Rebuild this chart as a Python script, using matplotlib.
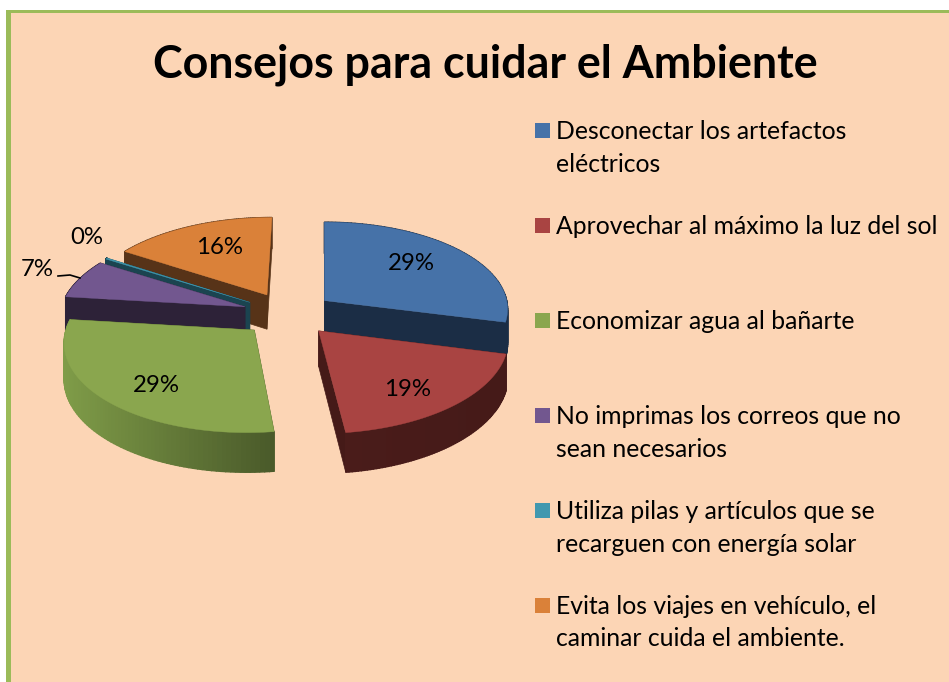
import matplotlib
matplotlib.use('Agg')
import matplotlib.pyplot as plt
import numpy as np
from matplotlib.patches import Rectangle, Polygon
from matplotlib.colors import to_rgb

# Data
title = 'Consejos para cuidar el Ambiente'
categories = ['Desconectar los artefactos\neléctricos',
              'Aprovechar al máximo la luz del sol',
              'Economizar agua al bañarte',
              'No imprimas los correos que no\nsean necesarios',
              'Utiliza pilas y artículos que se\nrecarguen con energía solar',
              'Evita los viajes en vehículo, el\ncaminar cuida el ambiente.']
values = [29, 19, 29, 7, 0.2, 16]

top_colors = ['#4672A8', '#A94442', '#8AA64E', '#72578F', '#4198AF', '#DA8139']
side_colors = ['#1B2D45', '#451A18', '#4A5A2A', '#2D2238', '#1B4450', '#573318']
arc_colors = ['#1B2D45', '#4A1C1A', '#7F9C48', '#2D2238', '#1B4450', '#573318']

# pie geometry, in pixels
cx, cy = 288, 314
R = 185
squash = 0.48
persp = 0.10
view_shift = -35
explode = 0.25
depth = 35

# where the data labels sit
label_pos = [(411, 263), (408, 389), (156, 385), (37, 269), (87, 238), (220, 247)]

fig = plt.figure(figsize=(9.49, 6.82), dpi=100)
ax = fig.add_axes([0, 0, 1, 1])
ax.set_xlim(0, 949)
ax.set_ylim(682, 0)
ax.axis('off')
fig.patch.set_facecolor('white')

# Background and green frame
ax.add_patch(Rectangle((6, 10), 943, 672, fc='#9BBB59', ec='none', zorder=0))
ax.add_patch(Rectangle((11, 13), 938, 669, fc='#FCD5B5', ec='none', zorder=0))


def project(u, v):
    f = 1 / (1 + persp * v)
    return cx + R * u * f + view_shift * (f - 1), cy - R * squash * v * f, f


def drop(u, v):
    x, y, f = project(u, v)
    return x, y + depth * f


fracs = np.array(values) / sum(values)
ends = np.cumsum(fracs) * 2 * np.pi
starts = ends - fracs * 2 * np.pi

# back wedges first so the front ones cover them
order = [5, 4, 3, 0, 2, 1]
for i in order:
    a0, a1 = starts[i], ends[i]
    mid = (a0 + a1) / 2
    ou, ov = explode * np.sin(mid), explode * np.cos(mid)
    th = np.linspace(a0, a1, 80)
    us = ou + np.sin(th)
    vs = ov + np.cos(th)

    # the two cut faces
    for t in [a0, a1]:
        eu, ev = ou + np.sin(t), ov + np.cos(t)
        pts = [project(ou, ov)[:2], project(eu, ev)[:2], drop(eu, ev), drop(ou, ov)]
        ax.add_patch(Polygon(pts, fc=side_colors[i], ec=side_colors[i], lw=0.5, zorder=2))

    # outer wall, shaded in strips from left to right
    c_a = np.array(to_rgb(arc_colors[i]))
    c_b = np.array(to_rgb(side_colors[i]))
    xs = np.array([project(u, v)[0] for u, v in zip(us, vs)])
    for j in range(len(th) - 1):
        s = (xs[j] - xs.min()) / max(xs.max() - xs.min(), 1)
        col = c_a + (c_b - c_a) * s
        pts = [project(us[j], vs[j])[:2], project(us[j + 1], vs[j + 1])[:2],
               drop(us[j + 1], vs[j + 1]), drop(us[j], vs[j])]
        ax.add_patch(Polygon(pts, fc=col, ec=col, lw=1.0, zorder=2))

    # top face
    pts = [project(ou, ov)[:2]] + [project(u, v)[:2] for u, v in zip(us, vs)]
    ax.add_patch(Polygon(pts, fc=top_colors[i], ec=top_colors[i], lw=0.3, zorder=2))

plt.rcParams['font.family'] = ['Lato', 'DejaVu Sans']

# Data labels
for v, (x, y) in zip(values, label_pos):
    ax.text(x, y, f'{v:.0f}%', fontsize=17.3, color='black', ha='center', va='center', zorder=4)

# leader line of the 7% label
ax.plot([58, 70, 80], [276, 275, 278], color='black', lw=1.2, zorder=4)

# Title
ax.text(485, 64.5, title, fontsize=32.2, fontweight='bold', color='black', ha='center', va='center')

# Legend
for k, (name, col) in enumerate(zip(categories, top_colors)):
    yc = 130.5 + k * 94.9
    ax.add_patch(Rectangle((535, yc - 7.5), 15, 15, fc=col, ec='none', zorder=3))
    for n, line in enumerate(name.split('\n')):
        ax.text(556, yc + 8.5 + n * 33, line, fontsize=17.8, color='black', ha='left', va='baseline')

fig.savefig('out.png', dpi=100)
